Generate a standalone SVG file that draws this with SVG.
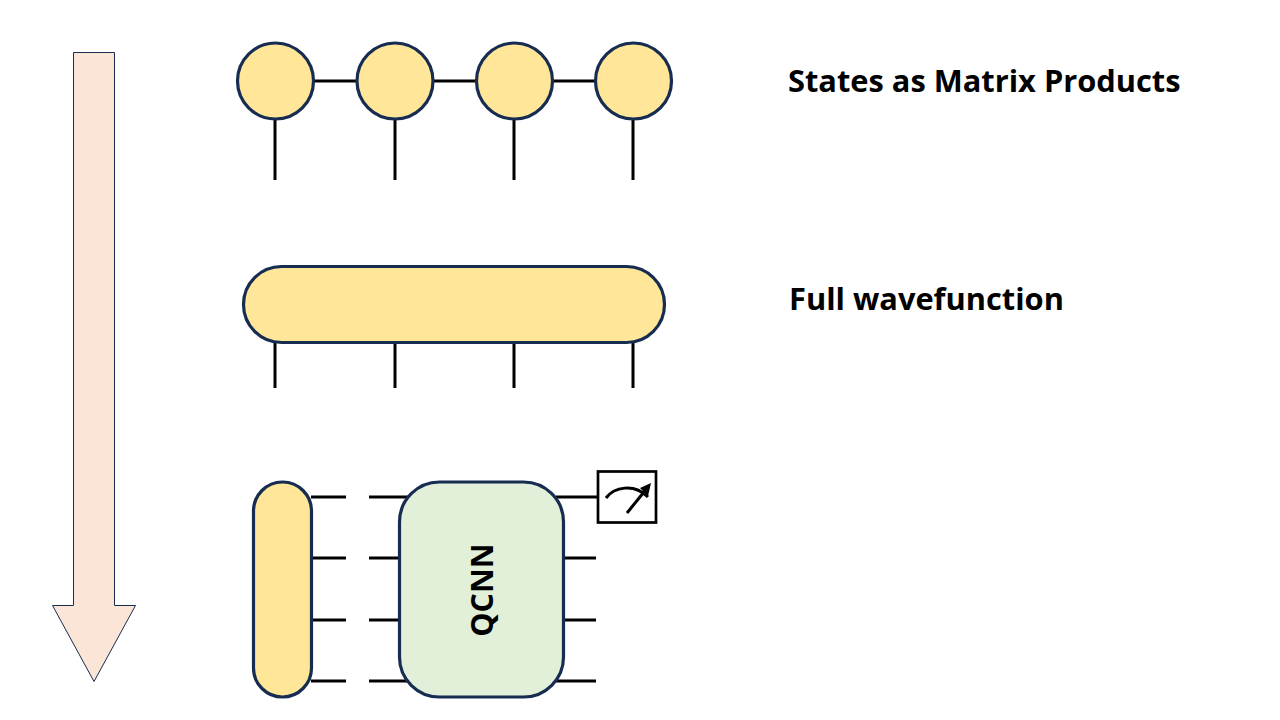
<svg xmlns="http://www.w3.org/2000/svg" width="1280" height="720" viewBox="0 0 1280 720">
<style>
.n{fill:#ffe699;stroke:#172c51;stroke-width:3.2}
.l{stroke:#000;stroke-width:3;fill:none}
.t{font-family:"Open Sans","Liberation Sans",sans-serif;font-weight:700;fill:#000}
</style>
<rect width="1280" height="720" fill="#fff"/>
<g id="arrow"><polygon points="73.500,52.500 114.500,52.500 114.500,605.500 135.500,605.500 94,681.500 52.500,605.500 73.500,605.500" fill="#fbe5d6" stroke="#172c51" stroke-width="1"/></g>
<g id="connectors">
<path class="l" d="M314 81H358M433 81H477M552 81H596M275 119V180M395 119V180M514 119V180M633 119V180M275 342V388M395 342V388M514 342V388M633 342V388M311 497H346M311 558H346M311 620H346M311 681H346M369 497H408M369 558H400M369 620H400M369 681H408M556 497H598M564 558H596M564 620H596M556 681H596"/>
</g>
<g id="mps1"><circle class="n" cx="275.500" cy="81" r="38"/></g>
<g id="mps2"><circle class="n" cx="395" cy="81" r="38"/></g>
<g id="mps3"><circle class="n" cx="514.500" cy="81" r="38"/></g>
<g id="mps4"><circle class="n" cx="633.500" cy="81" r="38"/></g>
<g id="wavefunction"><rect class="n" x="243.500" y="266.500" width="421" height="76" rx="38"/></g>
<g id="state"><rect class="n" x="253.500" y="482" width="58" height="215" rx="29"/></g>
<g id="qcnn"><rect x="399.500" y="482" width="164" height="215" rx="40" fill="#e2f0d9" stroke="#172c51" stroke-width="3.2"/>
<text class="t" transform="translate(493 590) rotate(-90)" text-anchor="middle" font-size="30.500">QCNN</text></g>
<g id="meter"><rect x="598" y="471.500" width="58" height="51" fill="#fff" stroke="#000" stroke-width="2.700"/>
<path d="M606 498C614 487 634 483 648 497" class="l"/><path d="M627 513L648 487" class="l"/><path d="M651 483L640 488L648 496Z" fill="#000"/></g>
<g id="label1"><text class="t" x="788" y="92" font-size="30.800">States as Matrix Products</text></g>
<g id="label2"><text class="t" x="789" y="310" font-size="30.800">Full wavefunction</text></g>
</svg>
